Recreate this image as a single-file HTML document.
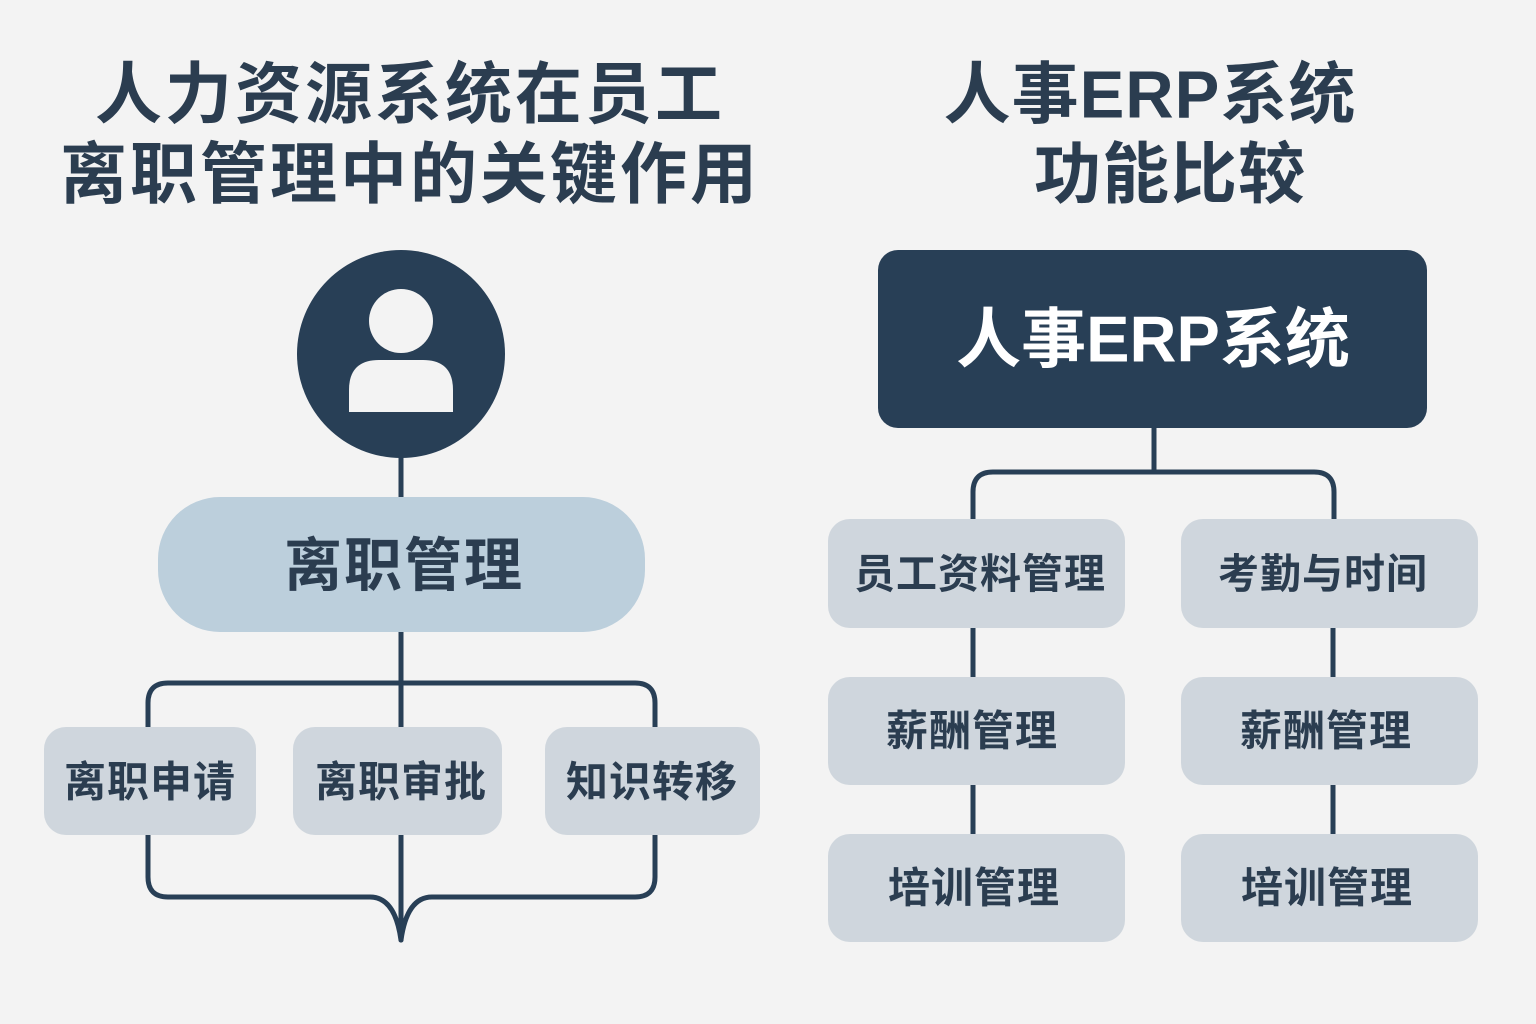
<!DOCTYPE html>
<html><head><meta charset="utf-8"><style>
html,body{margin:0;padding:0;background:#f3f3f3;}
svg{display:block}
text{font-family:"Liberation Sans","Noto Sans CJK SC",sans-serif;font-weight:bold;text-anchor:middle;dominant-baseline:central;}
</style></head><body>
<svg width="1536" height="1024" viewBox="0 0 1536 1024">
<rect width="1536" height="1024" fill="#f3f3f3"/>
<g fill="#2b3d50">
<text x="410" y="95" font-size="67" letter-spacing="3">人力资源系统在员工</text>
<text x="410" y="175" font-size="67" letter-spacing="3">离职管理中的关键作用</text>
<text x="1150" y="95" font-size="67" letter-spacing="1">人事ERP系统</text>
<text x="1170" y="175" font-size="67" letter-spacing="1">功能比较</text>
</g>
<g stroke="#283f56" stroke-width="5" fill="none" stroke-linecap="round">
<line x1="401" y1="455" x2="401" y2="500"/>
<line x1="401" y1="630" x2="401" y2="940"/>
<path d="M148 727 V703 Q148 683 168 683 H635 Q655 683 655 703 V727"/>
<path d="M148 835 V877 Q148 897 168 897 H370 Q395 897 401 940"/>
<path d="M655 835 V877 Q655 897 635 897 H432 Q407 897 401 940"/>
<line x1="1154" y1="425" x2="1154" y2="472"/>
<path d="M973 519 V492 Q973 472 993 472 H1314 Q1334 472 1334 492 V519"/>
<line x1="973" y1="628" x2="973" y2="677"/>
<line x1="973" y1="785" x2="973" y2="834"/>
<line x1="1333" y1="628" x2="1333" y2="677"/>
<line x1="1333" y1="785" x2="1333" y2="834"/>
</g>
<circle cx="401" cy="354" r="104" fill="#283f56"/>
<circle cx="401" cy="321" r="32" fill="#f3f3f3"/>
<path d="M349 412 V390 Q349 360 379 360 H423 Q453 360 453 390 V412 Z" fill="#f3f3f3"/>
<rect x="158" y="497" width="487" height="135" rx="62" fill="#bccfdc"/>
<text x="404" y="566" font-size="58" fill="#2b3d50" letter-spacing="2">离职管理</text>
<g fill="#cfd6dd">
<rect x="44" y="727" width="212" height="108" rx="22"/>
<rect x="293" y="727" width="209" height="108" rx="22"/>
<rect x="545" y="727" width="215" height="108" rx="22"/>
<rect x="828" y="519" width="297" height="109" rx="22"/>
<rect x="1181" y="519" width="297" height="109" rx="22"/>
<rect x="828" y="677" width="297" height="108" rx="22"/>
<rect x="1181" y="677" width="297" height="108" rx="22"/>
<rect x="828" y="834" width="297" height="108" rx="22"/>
<rect x="1181" y="834" width="297" height="108" rx="22"/>
</g>
<g fill="#2b3d50" font-size="42" letter-spacing="1">
<text x="150" y="782">离职申请</text>
<text x="401" y="782">离职审批</text>
<text x="652" y="782">知识转移</text>
<text x="980" y="574" font-size="41">员工资料管理</text>
<text x="1323" y="574" font-size="41">考勤与时间</text>
<text x="972" y="731">薪酬管理</text>
<text x="1326" y="731">薪酬管理</text>
<text x="974" y="888">培训管理</text>
<text x="1327" y="888">培训管理</text>
</g>
<rect x="878" y="250" width="549" height="178" rx="20" fill="#283f56"/>
<text x="1153" y="339" font-size="65" fill="#ffffff">人事ERP系统</text>
</svg>
</body></html>
